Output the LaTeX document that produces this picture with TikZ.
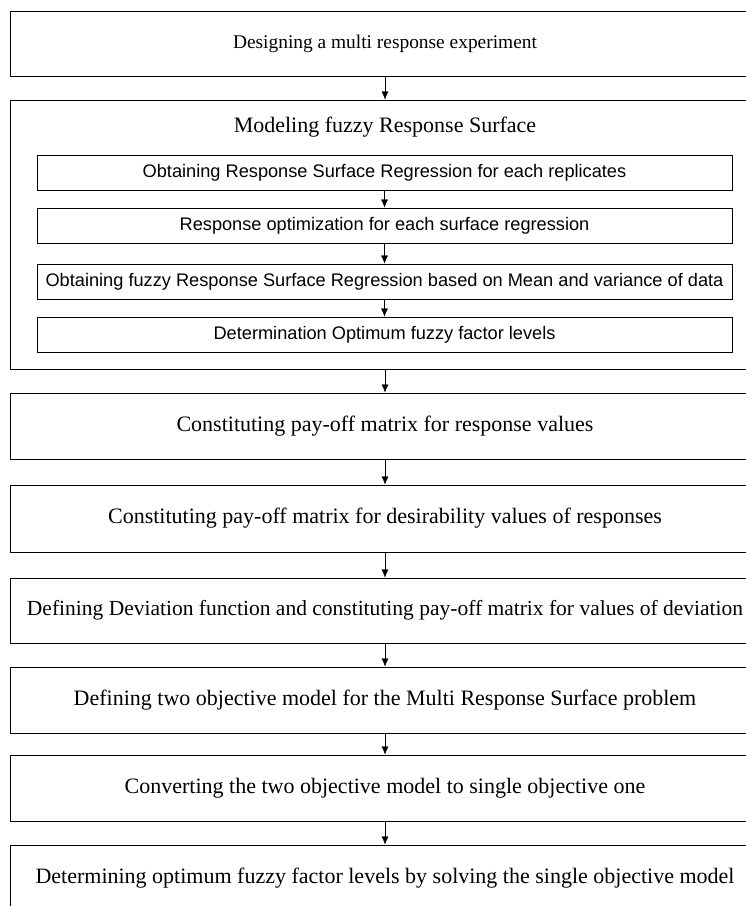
\documentclass[tikz,border=0pt]{standalone}
\usepackage{fontspec}
\setmainfont{Liberation Serif}
\newfontfamily\arialfont{Liberation Sans}
\usetikzlibrary{positioning,arrows.meta}
\tikzset{
    stage/.style = {
        draw,
        shape=rectangle,
        minimum width=750pt,
        line width=1pt,
        inner sep=0pt,
        font=\fontsize{22}{26}\selectfont
    },
    substage/.style = {
        draw,
        shape=rectangle,
        minimum width=695pt,
        minimum height=35pt,
        line width=1pt,
        inner sep=0pt,
        font=\arialfont\fontsize{18.2}{22}\selectfont
    },
    title/.style = {
        font=\fontsize{22}{26}\selectfont
    },
    >={Latex[length=8pt,width=7pt]},
}

\begin{document}
\begin{tikzpicture}[x=1pt,y=-1pt]
    \useasboundingbox (0,0) rectangle (746,906);
    \clip (0,0) rectangle (746,906);

    \node[stage, minimum height=65pt, font=\fontsize{19.4}{23}\selectfont] (design) at (385,43.5) {Designing a multi response experiment};
    \node[stage, minimum height=269pt] (model) at (385,234.5) {};
    \node[title] (modeltitle) at (385,127) {Modeling fuzzy Response Surface};

    \node[substage] (replicates) at (384.5,172.5) {Obtaining Response Surface Regression for each replicates};
    \node[substage] (optimize) at (384.5,225.5) {Response optimization for each surface regression};
    \node[substage] (fuzzyreg) at (384.5,281.5) {Obtaining fuzzy Response Surface Regression based on Mean and variance of data};
    \node[substage] (fuzzylevels) at (384.5,334.5) {Determination Optimum fuzzy factor levels};

    \node[stage, minimum height=66pt] (payoff) at (385,426) {Constituting pay-off matrix for response values};
    \node[stage, minimum height=67pt] (desir) at (385,518.5) {Constituting pay-off matrix for desirability values of responses};
    \node[stage, minimum height=65pt, font=\fontsize{21.5}{26}\selectfont] (deviation) at (385,610.5) {Defining Deviation function and constituting pay-off matrix for values of deviation};
    \node[stage, minimum height=66pt] (twoobj) at (385,700) {Defining two objective model for the Multi Response Surface problem};
    \node[stage, minimum height=66pt] (convert) at (385,788) {Converting the two objective model to single objective one};
    \node[stage, minimum height=66pt] (optimum) at (385,878) {Determining optimum fuzzy factor levels by solving the single objective model};

    \path[draw, ->] (design) -- (model);
    \path[draw, ->] (replicates) -- (optimize);
    \path[draw, ->] (optimize) -- (fuzzyreg);
    \path[draw, ->] (fuzzyreg) -- (fuzzylevels);
    \path[draw, ->] (model) -- (payoff);
    \path[draw, ->] (payoff) -- (desir);
    \path[draw, ->] (desir) -- (deviation);
    \path[draw, ->] (deviation) -- (twoobj);
    \path[draw, ->] (twoobj) -- (convert);
    \path[draw, ->] (convert) -- (optimum);
\end{tikzpicture}
\end{document}
